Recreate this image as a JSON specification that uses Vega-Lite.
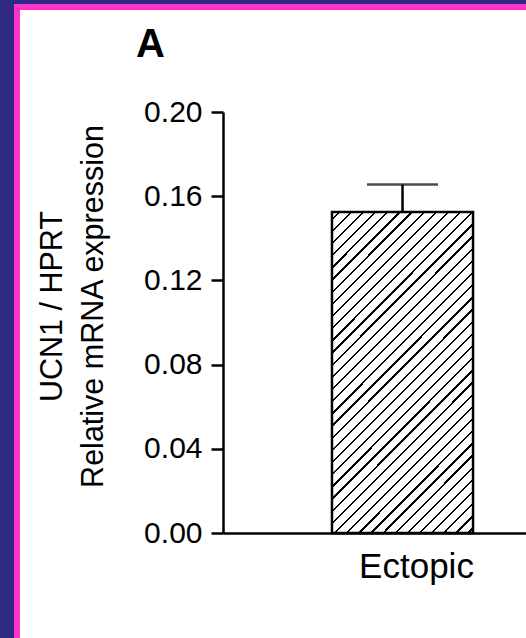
{
  "$schema": "https://vega.github.io/schema/vega-lite/v6.json",
  "autosize": {"type": "none"},
  "padding": {"left": 17, "top": 7, "right": 0, "bottom": 0},
  "width": 509,
  "height": 631,
  "background": "#2e2a84",
  "title": {"text": "A", "anchor": "start", "frame": "group", "baseline": "alphabetic", "offset": 0, "dx": 119, "dy": 90, "font": "Liberation Sans", "fontSize": 40, "fontWeight": "bold", "color": "black"},
  "config": {
    "view": {"fill": "white", "stroke": "#ff33cc", "strokeWidth": 6, "strokeDash": [509, 1140, 631], "strokeCap": "square"},
    "axis": {"labelFont": "Liberation Sans", "titleFont": "Liberation Sans", "labelColor": "black", "titleColor": "black", "domainColor": "black", "tickColor": "black", "grid": false}
  },
  "data": {"values": [{"group": "Ectopic", "mean": 0.1525, "upper": 0.1655}]},
  "encoding": {
    "x": {"field": "group", "type": "nominal",
      "scale": {"range": [206, 509], "paddingInner": 0, "paddingOuter": 0.574, "align": 0.673},
      "axis": {"orient": "bottom", "offset": -105, "title": null, "ticks": false, "tickSize": 0, "labelAngle": 0, "labelFontSize": 35, "labelPadding": 16, "labelOffset": 14, "domainWidth": 2.5}}
  },
  "layer": [
    {"mark": {"type": "bar", "stroke": "black", "strokeWidth": 2.5,
      "fill": {"gradient": "linear", "x1": 0, "y1": 0, "x2": 0.5316, "y2": 1.2064, "stops": [
        {"offset": 0.0132, "color": "white"}, {"offset": 0.0132, "color": "black"}, {"offset": 0.0182, "color": "black"}, {"offset": 0.0182, "color": "white"},
        {"offset": 0.0395, "color": "white"}, {"offset": 0.0395, "color": "black"}, {"offset": 0.0445, "color": "black"}, {"offset": 0.0445, "color": "white"},
        {"offset": 0.0658, "color": "white"}, {"offset": 0.0658, "color": "black"}, {"offset": 0.0708, "color": "black"}, {"offset": 0.0708, "color": "white"},
        {"offset": 0.0921, "color": "white"}, {"offset": 0.0921, "color": "black"}, {"offset": 0.0971, "color": "black"}, {"offset": 0.0971, "color": "white"},
        {"offset": 0.1184, "color": "white"}, {"offset": 0.1184, "color": "black"}, {"offset": 0.1234, "color": "black"}, {"offset": 0.1234, "color": "white"},
        {"offset": 0.1447, "color": "white"}, {"offset": 0.1447, "color": "black"}, {"offset": 0.1497, "color": "black"}, {"offset": 0.1497, "color": "white"},
        {"offset": 0.1711, "color": "white"}, {"offset": 0.1711, "color": "black"}, {"offset": 0.1761, "color": "black"}, {"offset": 0.1761, "color": "white"},
        {"offset": 0.1974, "color": "white"}, {"offset": 0.1974, "color": "black"}, {"offset": 0.2024, "color": "black"}, {"offset": 0.2024, "color": "white"},
        {"offset": 0.2237, "color": "white"}, {"offset": 0.2237, "color": "black"}, {"offset": 0.2287, "color": "black"}, {"offset": 0.2287, "color": "white"},
        {"offset": 0.25, "color": "white"}, {"offset": 0.25, "color": "black"}, {"offset": 0.255, "color": "black"}, {"offset": 0.255, "color": "white"},
        {"offset": 0.2763, "color": "white"}, {"offset": 0.2763, "color": "black"}, {"offset": 0.2813, "color": "black"}, {"offset": 0.2813, "color": "white"},
        {"offset": 0.3026, "color": "white"}, {"offset": 0.3026, "color": "black"}, {"offset": 0.3076, "color": "black"}, {"offset": 0.3076, "color": "white"},
        {"offset": 0.3289, "color": "white"}, {"offset": 0.3289, "color": "black"}, {"offset": 0.3339, "color": "black"}, {"offset": 0.3339, "color": "white"},
        {"offset": 0.3553, "color": "white"}, {"offset": 0.3553, "color": "black"}, {"offset": 0.3603, "color": "black"}, {"offset": 0.3603, "color": "white"},
        {"offset": 0.3816, "color": "white"}, {"offset": 0.3816, "color": "black"}, {"offset": 0.3866, "color": "black"}, {"offset": 0.3866, "color": "white"},
        {"offset": 0.4079, "color": "white"}, {"offset": 0.4079, "color": "black"}, {"offset": 0.4129, "color": "black"}, {"offset": 0.4129, "color": "white"},
        {"offset": 0.4342, "color": "white"}, {"offset": 0.4342, "color": "black"}, {"offset": 0.4392, "color": "black"}, {"offset": 0.4392, "color": "white"},
        {"offset": 0.4605, "color": "white"}, {"offset": 0.4605, "color": "black"}, {"offset": 0.4655, "color": "black"}, {"offset": 0.4655, "color": "white"},
        {"offset": 0.4868, "color": "white"}, {"offset": 0.4868, "color": "black"}, {"offset": 0.4918, "color": "black"}, {"offset": 0.4918, "color": "white"},
        {"offset": 0.5132, "color": "white"}, {"offset": 0.5132, "color": "black"}, {"offset": 0.5182, "color": "black"}, {"offset": 0.5182, "color": "white"},
        {"offset": 0.5395, "color": "white"}, {"offset": 0.5395, "color": "black"}, {"offset": 0.5445, "color": "black"}, {"offset": 0.5445, "color": "white"},
        {"offset": 0.5658, "color": "white"}, {"offset": 0.5658, "color": "black"}, {"offset": 0.5708, "color": "black"}, {"offset": 0.5708, "color": "white"},
        {"offset": 0.5921, "color": "white"}, {"offset": 0.5921, "color": "black"}, {"offset": 0.5971, "color": "black"}, {"offset": 0.5971, "color": "white"},
        {"offset": 0.6184, "color": "white"}, {"offset": 0.6184, "color": "black"}, {"offset": 0.6234, "color": "black"}, {"offset": 0.6234, "color": "white"},
        {"offset": 0.6447, "color": "white"}, {"offset": 0.6447, "color": "black"}, {"offset": 0.6497, "color": "black"}, {"offset": 0.6497, "color": "white"},
        {"offset": 0.6711, "color": "white"}, {"offset": 0.6711, "color": "black"}, {"offset": 0.6761, "color": "black"}, {"offset": 0.6761, "color": "white"},
        {"offset": 0.6974, "color": "white"}, {"offset": 0.6974, "color": "black"}, {"offset": 0.7024, "color": "black"}, {"offset": 0.7024, "color": "white"},
        {"offset": 0.7237, "color": "white"}, {"offset": 0.7237, "color": "black"}, {"offset": 0.7287, "color": "black"}, {"offset": 0.7287, "color": "white"},
        {"offset": 0.75, "color": "white"}, {"offset": 0.75, "color": "black"}, {"offset": 0.755, "color": "black"}, {"offset": 0.755, "color": "white"},
        {"offset": 0.7763, "color": "white"}, {"offset": 0.7763, "color": "black"}, {"offset": 0.7813, "color": "black"}, {"offset": 0.7813, "color": "white"},
        {"offset": 0.8026, "color": "white"}, {"offset": 0.8026, "color": "black"}, {"offset": 0.8076, "color": "black"}, {"offset": 0.8076, "color": "white"},
        {"offset": 0.8289, "color": "white"}, {"offset": 0.8289, "color": "black"}, {"offset": 0.8339, "color": "black"}, {"offset": 0.8339, "color": "white"},
        {"offset": 0.8553, "color": "white"}, {"offset": 0.8553, "color": "black"}, {"offset": 0.8603, "color": "black"}, {"offset": 0.8603, "color": "white"},
        {"offset": 0.8816, "color": "white"}, {"offset": 0.8816, "color": "black"}, {"offset": 0.8866, "color": "black"}, {"offset": 0.8866, "color": "white"},
        {"offset": 0.9079, "color": "white"}, {"offset": 0.9079, "color": "black"}, {"offset": 0.9129, "color": "black"}, {"offset": 0.9129, "color": "white"},
        {"offset": 0.9342, "color": "white"}, {"offset": 0.9342, "color": "black"}, {"offset": 0.9392, "color": "black"}, {"offset": 0.9392, "color": "white"},
        {"offset": 0.9605, "color": "white"}, {"offset": 0.9605, "color": "black"}, {"offset": 0.9655, "color": "black"}, {"offset": 0.9655, "color": "white"},
        {"offset": 0.9868, "color": "white"}, {"offset": 0.9868, "color": "black"}, {"offset": 0.9918, "color": "black"}, {"offset": 0.9918, "color": "white"}
      ]}},
      "encoding": {
        "y": {"field": "mean", "type": "quantitative",
          "scale": {"domain": [0, 0.2], "range": [526, 105], "nice": false, "zero": true},
          "axis": {"orient": "left", "offset": -206, "values": [0, 0.04, 0.08, 0.12, 0.16, 0.2], "format": ".2f",
            "labelFontSize": 30, "labelPadding": 9, "tickSize": 12, "tickWidth": 2.5, "domainWidth": 2.5,
            "title": ["UCN1 / HPRT", "Relative mRNA expression"], "titleFontSize": 30.5, "titleFontWeight": "normal",
            "titleLineHeight": 41, "titleBaseline": "alphabetic", "titleAngle": -90, "titleAlign": "center", "titleX": -162, "titleY": 299}}
      }
    },
    {"mark": {"type": "rule", "color": "black", "strokeWidth": 2.5},
      "encoding": {"y": {"field": "mean", "type": "quantitative"}, "y2": {"field": "upper"}}},
    {"mark": {"type": "tick", "color": "black", "size": 71, "thickness": 2.5},
      "encoding": {"y": {"field": "upper", "type": "quantitative"}}}
  ]
}
